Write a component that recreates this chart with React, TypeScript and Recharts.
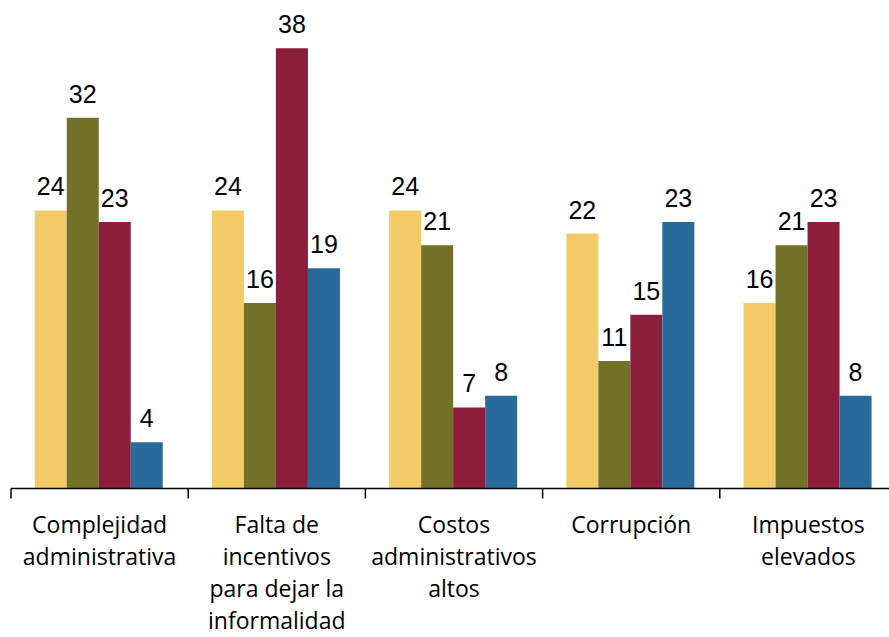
import { BarChart, Bar, XAxis, YAxis, LabelList } from "recharts";

const categories = [
  "Complejidad\nadministrativa",
  "Falta de\nincentivos\npara dejar la\ninformalidad",
  "Costos\nadministrativos\naltos",
  "Corrupción",
  "Impuestos\nelevados",
];

const serieA = [24, 24, 24, 22, 16];
const serieB = [32, 16, 21, 11, 21];
const serieC = [23, 38, 7, 15, 23];
const serieD = [4, 19, 8, 23, 8];

const data = categories.map((name, i) => ({
  name,
  a: serieA[i],
  b: serieB[i],
  c: serieC[i],
  d: serieD[i],
}));

const CHART_W = 897;
const CHART_H = 637;
const LEFT = 11;
const BAND = (CHART_W - LEFT) / categories.length;

const COLORS = ["#F2CB66", "#737027", "#8C1D3D", "#286B9A"];

const CategoryTick = (props: any) => {
  const { x, y, payload } = props;
  const lines = String(payload.value).split("\n");
  const left = x - BAND / 2;
  return (
    <g>
      <line x1={left} y1={y} x2={left} y2={y + 10} stroke="#000" strokeWidth={1.5} />
      <text
        x={x}
        y={y + 44}
        textAnchor="middle"
        fontFamily="'Open Sans', sans-serif"
        fontSize={23}
        fill="#000"
      >
        {lines.map((l, i) => (
          <tspan key={i} x={x} dy={i === 0 ? 0 : 32}>
            {l}
          </tspan>
        ))}
      </text>
    </g>
  );
};

const labelStyle = {
  fontFamily: "'Liberation Sans', Arial, sans-serif",
  fontSize: 25,
  fill: "#000",
};

export default function App() {
  const keys = ["a", "b", "c", "d"];
  return (
    <div
      style={{
        position: "fixed",
        left: 0,
        top: 0,
        width: 889,
        height: 637,
        overflow: "hidden",
        background: "#fff",
      }}
    >
      <BarChart
        width={CHART_W}
        height={CHART_H}
        data={data}
        margin={{ top: 25, right: 0, bottom: 0, left: LEFT }}
        barCategoryGap="13.4%"
        barGap={0}
      >
        <XAxis
          dataKey="name"
          height={148.5}
          interval={0}
          tickLine={false}
          tickSize={0}
          tickMargin={0}
          axisLine={{ stroke: "#000", strokeWidth: 1.5 }}
          tick={<CategoryTick />}
        />
        <YAxis hide domain={[0, 40]} />
        {keys.map((k, i) => (
          <Bar key={k} dataKey={k} fill={COLORS[i]} isAnimationActive={false}>
            <LabelList dataKey={k} position="top" offset={15} style={labelStyle} />
          </Bar>
        ))}
      </BarChart>
    </div>
  );
}
